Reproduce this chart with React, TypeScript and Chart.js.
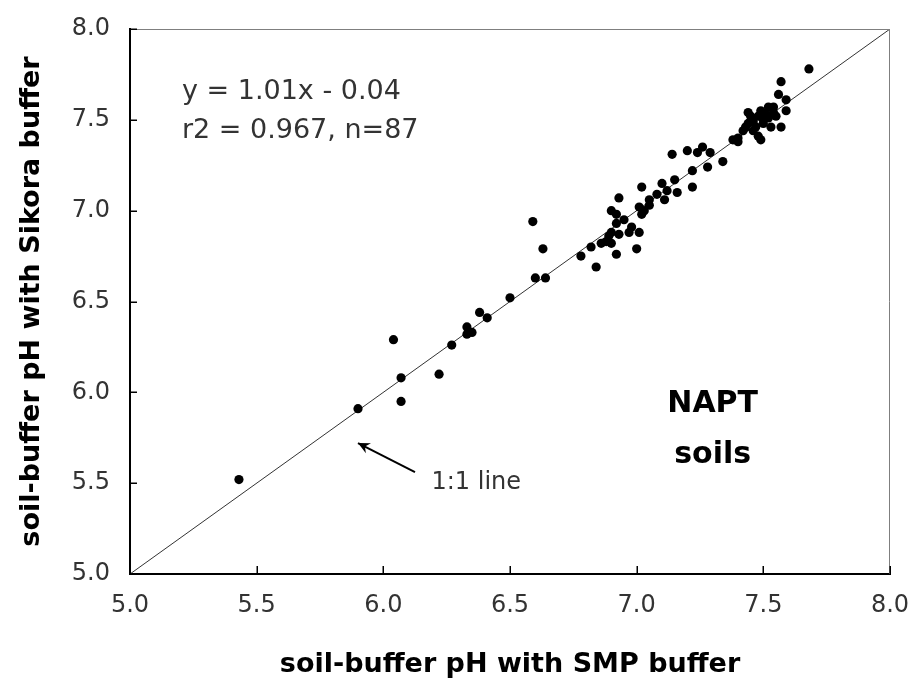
import { useEffect, useRef } from "react";
import { Chart, registerables } from "chart.js";

Chart.register(...registerables);

// soil-buffer pH with SMP buffer (x)
const smpPH = [
  5.43, 5.90, 6.04, 6.07, 6.07, 6.22, 6.27, 6.33, 6.35, 6.33,
  6.38, 6.41, 6.50, 6.59, 6.63, 6.60, 6.64, 6.78, 6.82, 6.84,
  7.02, 7.10, 7.08, 7.05, 7.11, 6.93, 7.01, 7.02, 6.90, 6.92,
  6.92, 6.98, 7.01, 6.93, 6.89, 6.88, 6.90, 7.00, 6.92, 7.40,
  7.26, 7.20, 7.24, 7.29, 7.14, 7.34, 7.28, 7.22, 7.15, 7.22,
  7.16, 7.68, 7.57, 7.56, 7.59, 7.59, 7.44, 7.49, 7.52, 7.54,
  7.48, 7.51, 7.54, 7.44, 7.46, 7.50, 7.53, 7.57, 7.42, 7.46,
  7.48, 7.40, 7.49, 7.45, 7.50, 7.47, 7.52, 7.43, 7.55, 7.38,
  6.95, 7.05, 6.86, 7.03, 6.97, 7.12, 6.90,
];

// soil-buffer pH with Sikora buffer (y)
const sikoraPH = [
  5.52, 5.91, 6.29, 6.08, 5.95, 6.10, 6.26, 6.32, 6.33, 6.36,
  6.44, 6.41, 6.52, 6.94, 6.79, 6.63, 6.63, 6.75, 6.80, 6.69,
  7.13, 7.15, 7.09, 7.06, 7.06, 7.07, 7.02, 6.98, 7.00, 6.98,
  6.93, 6.91, 6.88, 6.87, 6.86, 6.83, 6.82, 6.79, 6.76, 7.40,
  7.35, 7.33, 7.32, 7.32, 7.31, 7.27, 7.24, 7.22, 7.17, 7.13,
  7.10, 7.78, 7.71, 7.64, 7.61, 7.55, 7.54, 7.55, 7.57, 7.57,
  7.52, 7.53, 7.54, 7.48, 7.49, 7.48, 7.46, 7.46, 7.44, 7.44,
  7.41, 7.38, 7.39, 7.52, 7.50, 7.46, 7.51, 7.46, 7.52, 7.39,
  6.95, 7.03, 6.82, 7.00, 6.88, 7.11, 6.88,
];

// 1:1 reference line end points
const oneToOneX = [5.0, 8.0];
const oneToOneY = [5.0, 8.0];

// axis tick labels (both axes)
const axisTicks = [5.0, 5.5, 6.0, 6.5, 7.0, 7.5, 8.0];

const xAxisTitle = "soil-buffer pH with SMP buffer";
const yAxisTitle = "soil-buffer pH with Sikora buffer";
const equationText = "y = 1.01x - 0.04";
const statsText = "r2 = 0.967, n=87";
const groupLabel = ["NAPT", "soils"];
const lineLabel = "1:1 line";

const FONT = '"DejaVu Sans", "Liberation Sans", Arial, sans-serif';

const decorPlugin = {
  id: "decor",
  afterDraw(chart: any) {
    const { ctx, chartArea: a, scales } = chart;
    const xs = scales.x;
    const ys = scales.y;
    const px = (v: number) => xs.getPixelForValue(v);
    const py = (v: number) => ys.getPixelForValue(v);
    ctx.save();

    // top & right frame lines
    ctx.strokeStyle = "#7f7f7f";
    ctx.lineWidth = 1;
    ctx.beginPath();
    ctx.moveTo(a.left, Math.round(a.top) + 0.5);
    ctx.lineTo(a.right, Math.round(a.top) + 0.5);
    ctx.moveTo(Math.round(a.right) - 0.5, a.top);
    ctx.lineTo(Math.round(a.right) - 0.5, a.bottom);
    ctx.stroke();

    // inward tick marks
    ctx.strokeStyle = "#000";
    ctx.lineWidth = 1.5;
    ctx.beginPath();
    xs.ticks.forEach((t: any) => {
      const x = Math.round(px(t.value)) + 0.25;
      ctx.moveTo(x, a.bottom);
      ctx.lineTo(x, a.bottom - 8);
    });
    ys.ticks.forEach((t: any) => {
      const y = Math.round(py(t.value)) + 0.25;
      ctx.moveTo(a.left, y);
      ctx.lineTo(a.left + 7, y);
    });
    ctx.stroke();

    // regression text
    ctx.fillStyle = "#333";
    ctx.font = `27px ${FONT}`;
    ctx.textAlign = "left";
    ctx.textBaseline = "alphabetic";
    ctx.fillText(equationText, px(5.205), py(7.614));
    ctx.fillText(statsText, px(5.205), py(7.40));

    // group label
    ctx.fillStyle = "#000";
    ctx.font = `bold 30px ${FONT}`;
    ctx.textAlign = "center";
    ctx.fillText(groupLabel[0], px(7.30), py(5.892));
    ctx.fillText(groupLabel[1], px(7.30), py(5.611));

    // 1:1 line label with arrow
    ctx.fillStyle = "#333";
    ctx.font = `24px ${FONT}`;
    ctx.textAlign = "left";
    ctx.fillText(lineLabel, px(6.19), py(5.47));

    const hx = px(5.9), hy = py(5.721);
    const tx = px(6.125), ty = py(5.561);
    ctx.strokeStyle = "#000";
    ctx.lineWidth = 2;
    ctx.beginPath();
    ctx.moveTo(tx, ty);
    ctx.lineTo(hx, hy);
    ctx.stroke();
    const ang = Math.atan2(hy - ty, hx - tx);
    const L = 13, W = 0.45;
    ctx.fillStyle = "#000";
    ctx.beginPath();
    ctx.moveTo(hx, hy);
    ctx.lineTo(hx - L * Math.cos(ang - W), hy - L * Math.sin(ang - W));
    ctx.lineTo(hx - L * 0.6 * Math.cos(ang), hy - L * 0.6 * Math.sin(ang));
    ctx.lineTo(hx - L * Math.cos(ang + W), hy - L * Math.sin(ang + W));
    ctx.closePath();
    ctx.fill();

    ctx.restore();
  },
};

export default function App() {
  const canvasRef = useRef<HTMLCanvasElement | null>(null);

  useEffect(() => {
    if (!canvasRef.current) return;
    const points = smpPH.map((x, i) => ({ x, y: sikoraPH[i] }));
    const linePts = oneToOneX.map((x, i) => ({ x, y: oneToOneY[i] }));
    const tickCb = (v: any) => Number(v).toFixed(1);
    const setTicks = (s: any) => {
      s.ticks = axisTicks.map((v) => ({ value: v }));
    };

    const chart = new Chart(canvasRef.current, {
      type: "scatter",
      data: {
        datasets: [
          {
            type: "line",
            data: linePts,
            borderColor: "#333",
            borderWidth: 1,
            pointRadius: 0,
            fill: false,
            order: 2,
          } as any,
          {
            type: "scatter",
            data: points,
            backgroundColor: "#000",
            borderColor: "#000",
            borderWidth: 0,
            pointRadius: 4.6,
            pointHoverRadius: 4.6,
            order: 1,
          },
        ],
      },
      options: {
        responsive: false,
        animation: false,
        devicePixelRatio: 1,
        layout: { padding: { left: 0, top: 29, right: 27, bottom: 0 } },
        plugins: {
          legend: { display: false },
          tooltip: { enabled: false },
        },
        scales: {
          x: {
            type: "linear",
            min: 5,
            max: 8,
            afterBuildTicks: setTicks,
            afterFit: (s: any) => {
              s.height = 119;
              s.paddingLeft = 0;
              s.paddingRight = 0;
            },
            ticks: {
              callback: tickCb,
              font: { family: FONT, size: 24 },
              color: "#333",
              padding: 17,
              maxRotation: 0,
              autoSkip: false,
            },
            grid: { display: false, drawTicks: false },
            border: { display: true, color: "#000", width: 2 },
            title: {
              display: true,
              text: xAxisTitle,
              color: "#000",
              font: { family: FONT, size: 27, weight: "bold" },
              padding: { top: 0, bottom: 12 },
            },
          },
          y: {
            type: "linear",
            min: 5,
            max: 8,
            afterBuildTicks: setTicks,
            afterFit: (s: any) => {
              s.width = 130;
              s.paddingTop = 0;
              s.paddingBottom = 0;
            },
            ticks: {
              callback: tickCb,
              font: { family: FONT, size: 24 },
              color: "#333",
              padding: 20,
              autoSkip: false,
            },
            grid: { display: false, drawTicks: false },
            border: { display: true, color: "#000", width: 2 },
            title: {
              display: true,
              text: yAxisTitle,
              color: "#000",
              font: { family: FONT, size: 27, weight: "bold" },
              padding: { top: 16, bottom: 0 },
            },
          },
        },
      },
      plugins: [decorPlugin],
    });

    return () => chart.destroy();
  }, []);

  return (
    <div
      style={{
        position: "absolute",
        left: 0,
        top: 0,
        width: 917,
        height: 693,
        background: "#fff",
      }}
    >
      <canvas ref={canvasRef} width={917} height={693} style={{ display: "block" }} />
    </div>
  );
}
